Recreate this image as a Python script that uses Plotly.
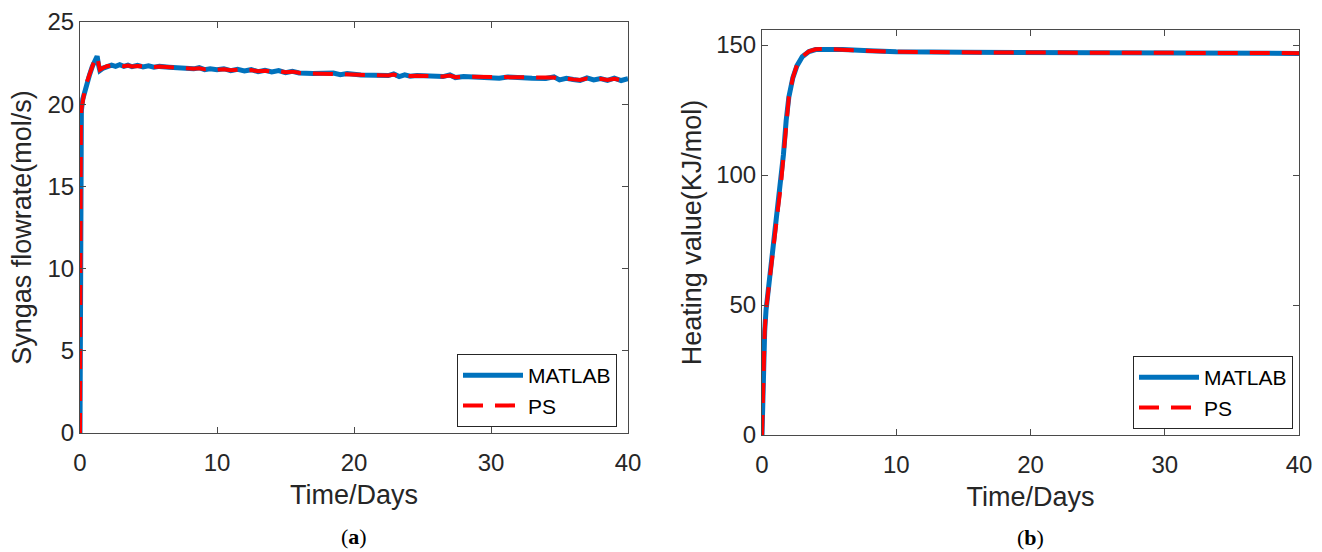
import plotly.graph_objects as go

# ---- data: syngas flowrate (panel a) ----
t_syn = [0, 0.01, 0.03, 0.06, 0.1, 0.2, 0.35, 0.5, 0.7, 0.9, 1.1, 1.25, 1.35, 1.45, 1.7, 2.0, 2.3,
         2.6, 2.9, 3.2, 3.5, 3.8, 4.2, 4.6, 5.0, 5.4, 5.8, 6.5, 7.5, 8.3, 8.7, 9.1, 9.5, 10.0, 10.5,
         11.0, 11.5, 12.0, 12.5, 13.0, 13.5, 14.0, 14.5, 15.0, 15.5, 16.0, 17.0, 18.0, 18.5, 19.0,
         19.5, 20.5, 21.5, 22.5, 22.9, 23.3, 23.7, 24.1, 24.6, 25.5, 26.5, 27.0, 27.4, 28.0, 29.0,
         30.0, 30.6, 31.2, 32, 33, 34, 34.6, 35.0, 35.5, 36.0, 36.5, 37.0, 37.5, 38.0, 38.5, 39.0,
         39.5, 40.0]
syn_matlab = [0, 8, 15, 18.5, 19.6, 20.3, 20.8, 21.3, 21.8, 22.3, 22.75, 22.92, 22.4, 22.05, 22.2,
              22.3, 22.38, 22.3, 22.4, 22.3, 22.38, 22.28, 22.36, 22.27, 22.33, 22.25, 22.3, 22.25,
              22.2, 22.15, 22.22, 22.1, 22.15, 22.1, 22.16, 22.04, 22.12, 22.02, 22.1, 21.98, 22.06,
              21.96, 22.04, 21.92, 22.0, 21.9, 21.87, 21.84, 21.9, 21.8, 21.86, 21.78, 21.76, 21.74,
              21.84, 21.68, 21.78, 21.7, 21.74, 21.71, 21.68, 21.78, 21.62, 21.68, 21.66, 21.63, 21.58,
              21.66, 21.6, 21.58, 21.57, 21.66, 21.48, 21.58, 21.5, 21.44, 21.6, 21.48, 21.56, 21.45,
              21.58, 21.44, 21.55]
syn_ps = [0, 8.3, 15.2, 18.6, 19.7, 20.35, 20.85, 21.35, 21.85, 22.32, 22.76, 22.9, 22.45, 22.1,
          22.22, 22.32, 22.35, 22.32, 22.36, 22.31, 22.35, 22.3, 22.33, 22.29, 22.31, 22.27, 22.29,
          22.25, 22.2, 22.16, 22.19, 22.12, 22.14, 22.1, 22.13, 22.06, 22.1, 22.04, 22.08, 22.0,
          22.04, 21.98, 22.02, 21.94, 21.98, 21.91, 21.87, 21.84, 21.87, 21.82, 21.84, 21.78, 21.76,
          21.74, 21.8, 21.7, 21.75, 21.71, 21.73, 21.71, 21.68, 21.74, 21.64, 21.67, 21.66, 21.63,
          21.6, 21.64, 21.6, 21.58, 21.57, 21.62, 21.51, 21.56, 21.51, 21.47, 21.56, 21.49, 21.54,
          21.47, 21.55, 21.46, 21.53]

# ---- data: heating value (panel b) ----
t_heat = [0, 0.05, 0.1, 0.2, 0.3, 0.5, 0.7, 1.0, 1.2, 1.4, 1.6, 1.8, 2.0, 2.3, 2.6, 3.0, 3.5, 4.0,
          5, 6, 8, 10, 15, 20, 25, 30, 35, 40]
heat_matlab = [0, 15, 28, 40, 48, 57, 65, 78, 87, 96, 108, 121, 130, 137.5, 142, 145.5, 147.5, 148.3,
               148.5, 148.3, 147.8, 147.4, 147.2, 147.1, 147.0, 147.2, 147.0, 146.8]
heat_ps = [0, 15.5, 28.5, 40, 48, 57.5, 65, 78, 87.5, 96, 108, 121, 130, 137.5, 142.2, 145.6, 147.6,
           148.4, 148.5, 148.2, 147.8, 147.4, 147.2, 147.1, 147.0, 147.2, 147.0, 146.9]

series_names = ["MATLAB", "PS"]
x_ticks = [0, 10, 20, 30, 40]
syn_ticks = [0, 5, 10, 15, 20, 25]
heat_ticks = [0, 50, 100, 150]

BLUE = "#0072BD"
RED = "#FF0000"
AX = "#4a4a4a"
TXT = "#262626"
FONT = "Liberation Sans, Arial, sans-serif"
DASH = "20px,12px"

fig = go.Figure()
fig.add_trace(go.Scatter(x=t_syn, y=syn_matlab, name=series_names[0], mode="lines",
                         line=dict(color=BLUE, width=5), xaxis="x", yaxis="y", legend="legend"))
fig.add_trace(go.Scatter(x=t_syn, y=syn_ps, name=series_names[1], mode="lines",
                         line=dict(color=RED, width=4, dash=DASH), xaxis="x", yaxis="y",
                         legend="legend"))
fig.add_trace(go.Scatter(x=t_heat, y=heat_matlab, name=series_names[0], mode="lines",
                         line=dict(color=BLUE, width=5), xaxis="x2", yaxis="y2", legend="legend2"))
fig.add_trace(go.Scatter(x=t_heat, y=heat_ps, name=series_names[1], mode="lines",
                         line=dict(color=RED, width=4, dash=DASH), xaxis="x2", yaxis="y2",
                         legend="legend2"))

W, H = 1322, 552


def ax_common():
    return dict(showline=True, linecolor=AX, linewidth=1, mirror="allticks", ticks="inside",
                ticklen=6, tickcolor=AX, showgrid=False, zeroline=False, automargin=False,
                tickfont=dict(family=FONT, size=24, color=TXT))


title_font = dict(family=FONT, size=27, color=TXT)

xa = ax_common()
xa.update(domain=[80 / W, 628 / W], range=[0, 40], tickvals=x_ticks, anchor="y",
          ticklabelstandoff=8, title=dict(text="Time/Days", font=title_font, standoff=10))
ya = ax_common()
ya.update(domain=[1 - 433 / H, 1 - 22 / H], range=[0, 25], tickvals=syn_ticks, anchor="x",
          title=dict(text="Syngas flowrate(mol/s)", font=title_font, standoff=8))
xa2 = ax_common()
xa2.update(domain=[762 / W, 1299 / W], range=[0, 40], tickvals=x_ticks, anchor="y2",
           ticklabelstandoff=8, title=dict(text="Time/Days", font=title_font, standoff=10))
ya2 = ax_common()
ya2.update(domain=[1 - 435 / H, 1 - 30 / H], range=[0, 155.8], tickvals=heat_ticks, anchor="x2",
           title=dict(text="Heating value(KJ/mol)", font=title_font, standoff=6))

legend_style = dict(bgcolor="white", bordercolor=TXT, borderwidth=1,
                    font=dict(family=FONT, size=21, color="black"), xanchor="left", yanchor="top",
                    tracegroupgap=0, itemwidth=60)

fig.update_layout(
    width=W, height=H, margin=dict(l=0, r=0, t=0, b=0),
    paper_bgcolor="white", plot_bgcolor="white",
    xaxis=xa, yaxis=ya, xaxis2=xa2, yaxis2=ya2,
    showlegend=True,
    legend=dict(x=457 / W, y=1 - 354 / H, **legend_style),
    legend2=dict(x=1133 / W, y=1 - 356 / H, **legend_style),
    annotations=[
        dict(text="(<b>a</b>)", x=354 / W, y=1 - 536 / H, xref="paper", yref="paper",
             xanchor="center", yanchor="middle", showarrow=False,
             font=dict(family="Liberation Serif, Times New Roman, serif", size=22, color="black")),
        dict(text="(<b>b</b>)", x=1030 / W, y=1 - 537 / H, xref="paper", yref="paper",
             xanchor="center", yanchor="middle", showarrow=False,
             font=dict(family="Liberation Serif, Times New Roman, serif", size=22, color="black")),
    ],
)

fig.write_html("out.html", config={"displayModeBar": False},
               post_script="document.body.style.margin='0';document.body.style.overflow='hidden';")
